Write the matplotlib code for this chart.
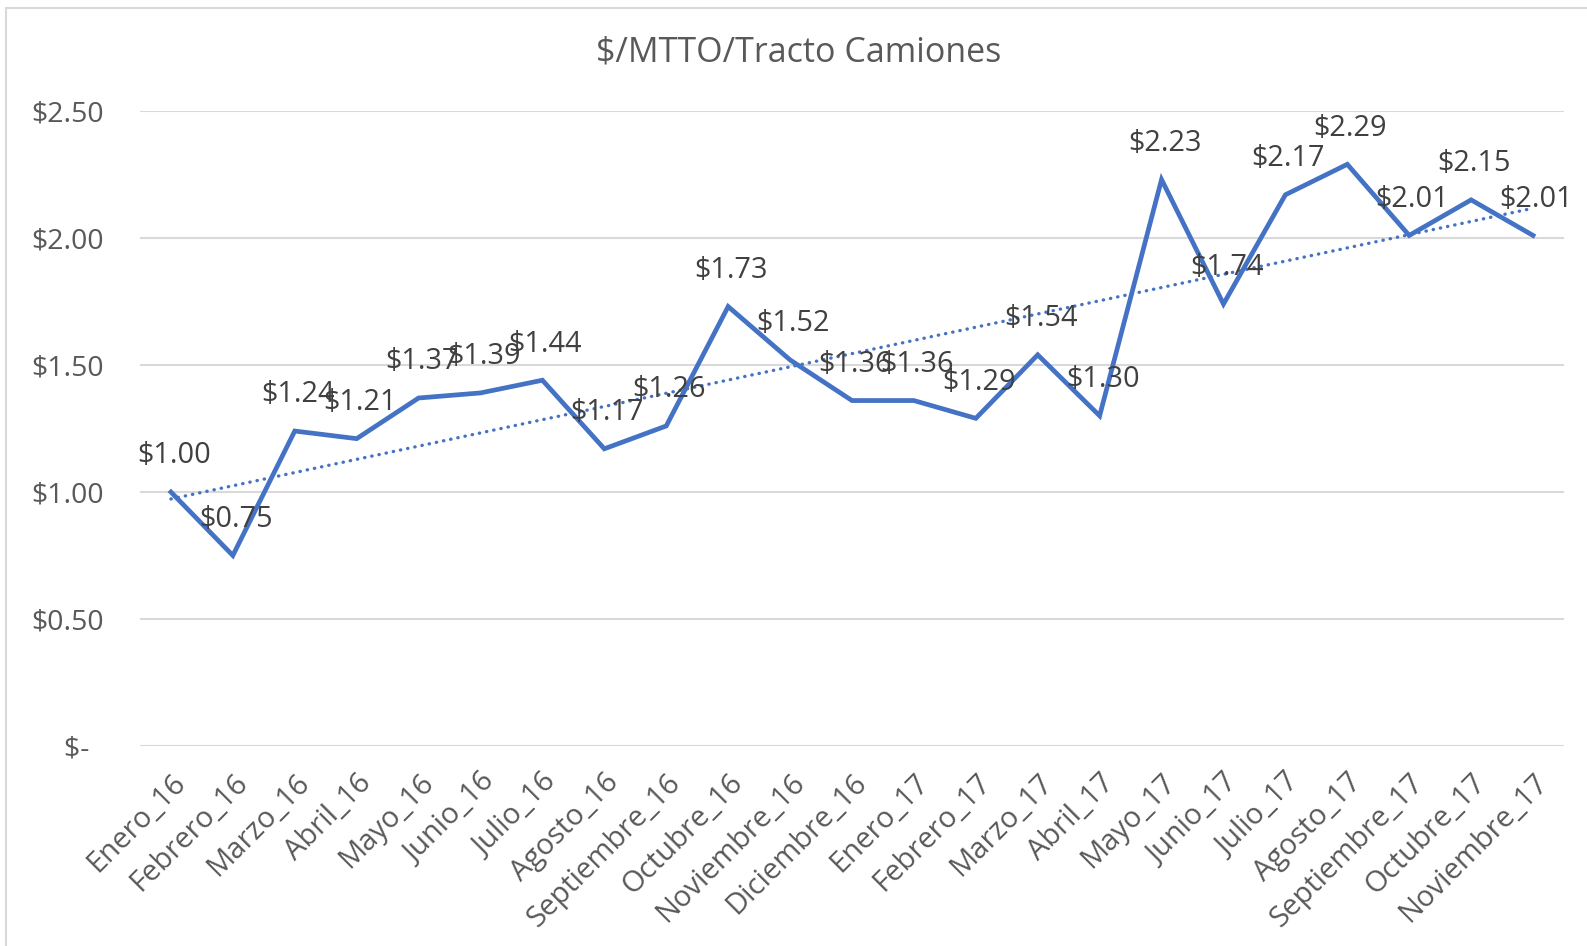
import numpy as np
import matplotlib.pyplot as plt
from matplotlib.patches import Rectangle

plt.rcParams['font.family'] = ['Open Sans', 'DejaVu Sans']

meses = ["Enero_16", "Febrero_16", "Marzo_16", "Abril_16", "Mayo_16", "Junio_16",
         "Julio_16", "Agosto_16", "Septiembre_16", "Octubre_16", "Noviembre_16",
         "Diciembre_16", "Enero_17", "Febrero_17", "Marzo_17", "Abril_17", "Mayo_17",
         "Junio_17", "Julio_17", "Agosto_17", "Septiembre_17", "Octubre_17",
         "Noviembre_17"]
costo = [1.00, 0.75, 1.24, 1.21, 1.37, 1.39, 1.44, 1.17, 1.26, 1.73, 1.52, 1.36,
         1.36, 1.29, 1.54, 1.30, 2.23, 1.74, 2.17, 2.29, 2.01, 2.15, 2.01]
y_ticks = [0, 0.5, 1.0, 1.5, 2.0, 2.5]
y_labels = ["$-  ", "$0.50", "$1.00", "$1.50", "$2.00", "$2.50"]

azul = "#4472C4"
gris = "#595959"

fig = plt.figure(figsize=(15.87, 9.46), dpi=100)
ax = fig.add_axes([0.0882, 0.2114, 0.8973, 0.6713])

x = np.arange(len(costo))
ax.plot(x, costo, color=azul, lw=3.4, solid_joinstyle='miter', zorder=3)

# tendencia lineal
m, b = np.polyfit(x, costo, 1)
ax.plot(x, m * x + b, color=azul, lw=2.4, linestyle=(0, (0.1, 2.1)),
        dash_capstyle='round', zorder=2)

for xi, yi in zip(x, costo):
    ax.annotate(f"${yi:.2f}", (xi, yi), xytext=(2.2, 26), textcoords='offset points',
                ha='center', va='center', fontsize=20.8, color="#404040", zorder=4)

ax.set_xlim(-0.5, len(costo) - 0.5)
ax.set_ylim(0, 2.5)
ax.set_yticks(y_ticks)
ax.set_yticklabels(y_labels)
ax.set_xticks(x)
ax.set_xticklabels(meses, rotation=45, ha='right', va='top', rotation_mode='anchor')
ax.tick_params(axis='both', length=0, labelsize=20.5, labelcolor=gris)
ax.tick_params(axis='x', labelsize=21)
ax.tick_params(axis='y', pad=26)
ax.tick_params(axis='x', pad=16)
ax.grid(axis='y', color="#d9d9d9", lw=1.5)
ax.set_axisbelow(True)
for s in ax.spines.values():
    s.set_visible(False)

fig.text(0.503, 0.944, "$/MTTO/Tracto Camiones", ha='center', va='center',
         fontsize=24.5, color=gris)

fig.patches.append(Rectangle((6 / 1587, -0.1), 1.2, 1 - 8 / 946 + 0.1,
                             transform=fig.transFigure, fill=False,
                             edgecolor="#d9d9d9", lw=1.5))

fig.savefig("out.png", dpi=100)
